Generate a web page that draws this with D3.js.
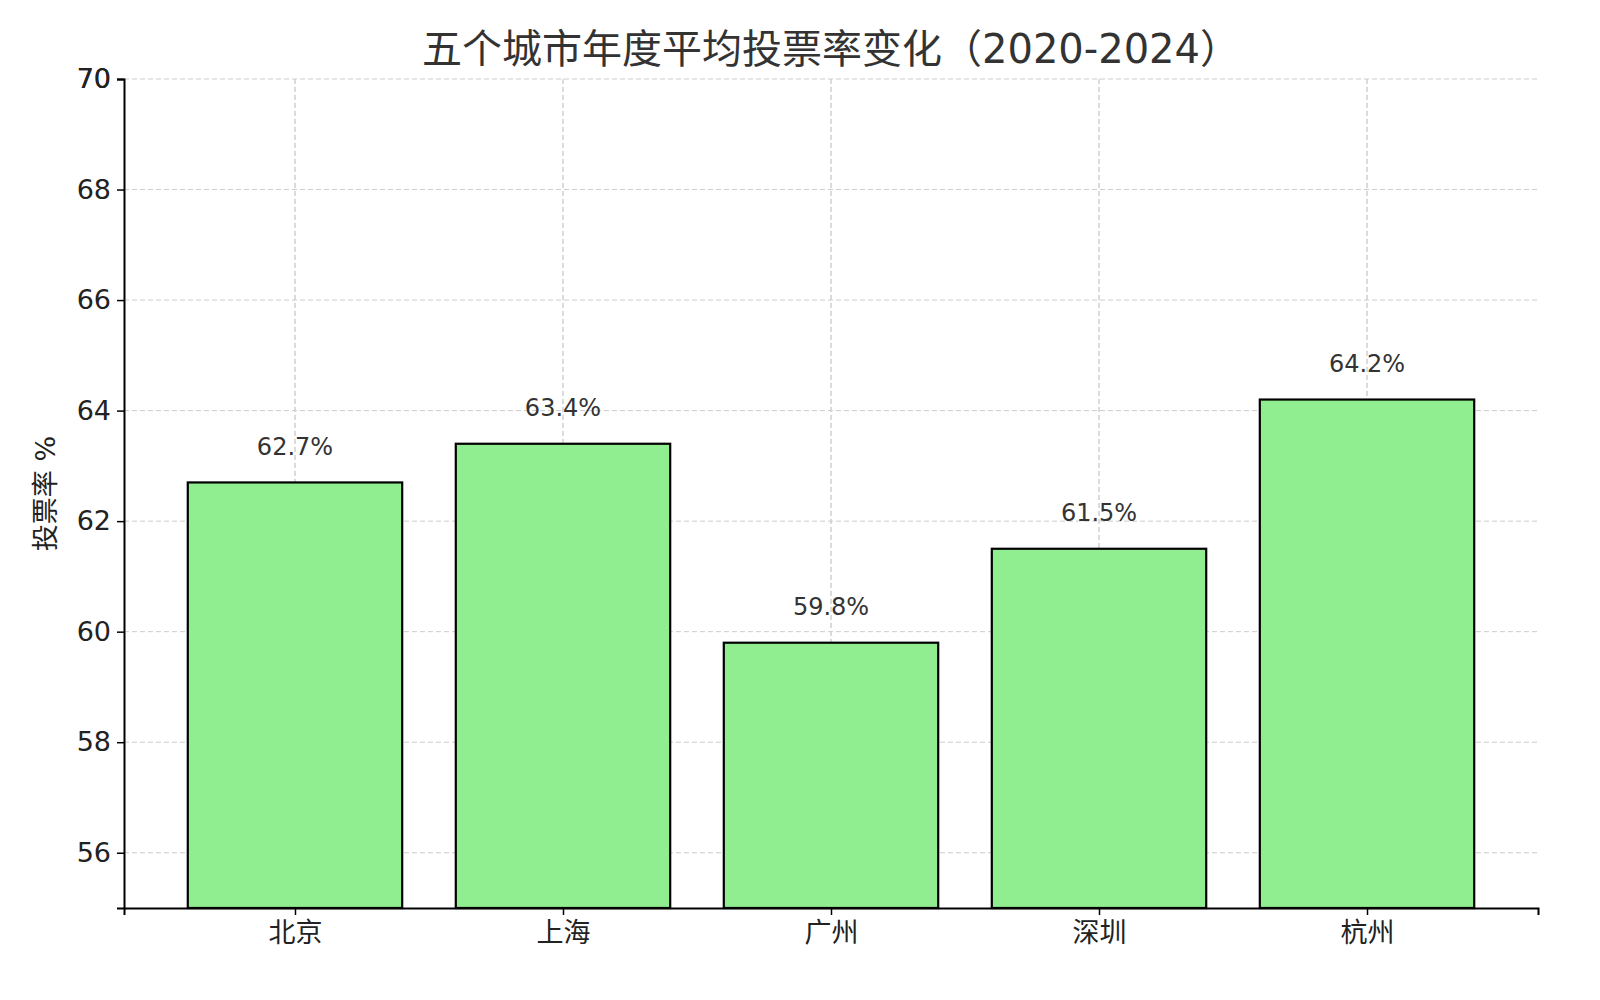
<!DOCTYPE html><html><head><meta charset="utf-8"><script src="https://cdn.jsdelivr.net/npm/d3@7"></script>
<style>body{margin:0;background:#fff}text{font-family:"DejaVu Sans","Noto Sans CJK SC",sans-serif}</style></head><body><svg id="c" width="1600" height="1000"></svg><script>
const categories=["北京","上海","广州","深圳","杭州"];
const values=[62.7,63.4,59.8,61.5,64.2];
const yTicks=[56,58,60,62,64,66,68,70];
const title="五个城市年度平均投票率变化（2020-2024）";
const yLabel="投票率 %";
const svg=d3.select("#c");
const L=124,R=1538,T=79,B=908;
const x=d3.scaleLinear().domain([-0.638,4.638]).range([L,R]);
const y=d3.scaleLinear().domain([55,70]).range([B,T]);
const g=svg.append("g");
yTicks.forEach(t=>g.append("line").attr("x1",L).attr("x2",R).attr("y1",y(t)).attr("y2",y(t)).attr("stroke","#ccc").attr("stroke-dasharray","5,3"));
categories.forEach((c,i)=>g.append("line").attr("x1",x(i)).attr("x2",x(i)).attr("y1",T).attr("y2",B).attr("stroke","#ccc").attr("stroke-dasharray","5,3"));
svg.selectAll("rect.b").data(values).join("rect").attr("x",(d,i)=>x(i-0.4)).attr("width",x(0.8)-x(0)).attr("y",d=>y(d)).attr("height",d=>B-y(d)).attr("fill","#90ee90").attr("stroke","#000").attr("stroke-width",2.2);
categories.forEach((c,i)=>g.append("line").attr("x1",x(i)).attr("x2",x(i)).attr("y1",T).attr("y2",B).attr("stroke","#ccc").attr("stroke-dasharray","5,3").attr("opacity",0.8));
svg.selectAll("text.v").data(values).join("text").attr("x",(d,i)=>x(i)).attr("y",d=>y(d+0.5)).attr("text-anchor","middle").attr("font-size",24).attr("fill","#333").text(d=>d.toFixed(1)+"%");
const ya=svg.append("g").attr("transform",`translate(${L},0)`).call(d3.axisLeft(y).tickValues(yTicks.concat([70])).tickSize(7).tickPadding(6));
ya.selectAll("text").attr("font-size",27).attr("fill","#222");
const xa=svg.append("g").attr("transform",`translate(0,${B})`).call(d3.axisBottom(x).tickValues(d3.range(5)).tickFormat(i=>categories[i]).tickSize(7).tickPadding(8));
xa.selectAll("text").attr("font-size",27).attr("fill","#222");
[ya,xa].forEach(a=>{a.select(".domain").attr("stroke","#000").attr("stroke-width",2);a.selectAll(".tick line").attr("stroke","#000").attr("stroke-width",1.5);});
svg.append("text").attr("x",831).attr("y",63).attr("text-anchor","middle").attr("font-size",40).attr("fill","#333").text(title);
svg.append("text").attr("transform",`translate(55,${(T+B)/2}) rotate(-90)`).attr("text-anchor","middle").attr("font-size",27).attr("fill","#222").text(yLabel);
</script></body></html>
